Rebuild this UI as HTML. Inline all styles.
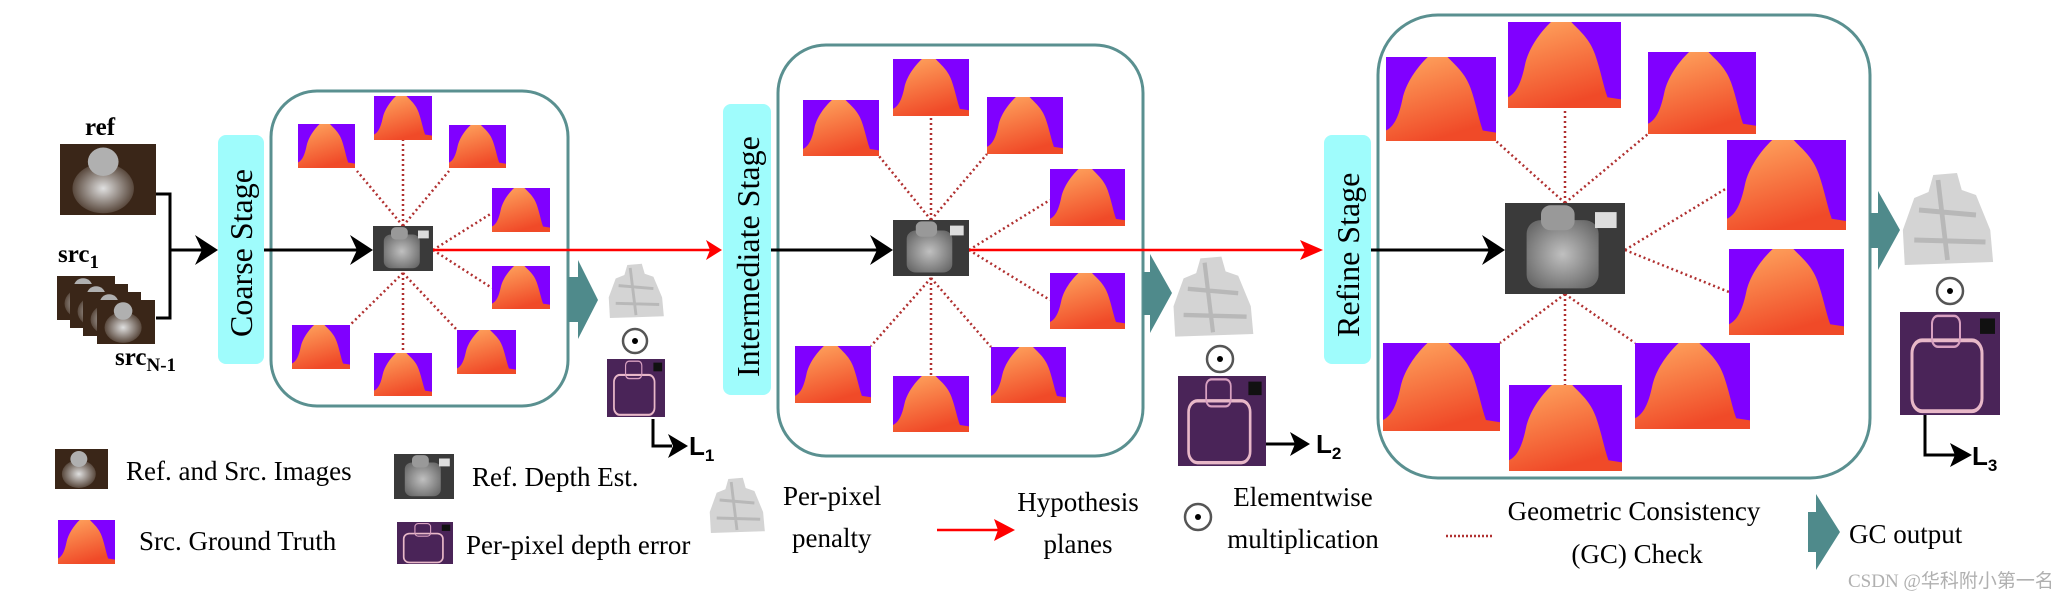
<!DOCTYPE html>
<html><head><meta charset="utf-8"><style>
html,body{margin:0;padding:0;background:#fff;}
svg{display:block;}
text{font-family:"Liberation Serif",serif;fill:#000;}
.b{font-weight:bold;}
.s{font-family:"Liberation Sans",sans-serif;font-weight:bold;}
</style></head><body>
<svg width="2071" height="600" viewBox="0 0 2071 600" xmlns="http://www.w3.org/2000/svg">
<defs>
<linearGradient id="og" x1="0" y1="0" x2="0.4" y2="1"><stop offset="0" stop-color="#ffa860"/><stop offset="1" stop-color="#f04a28"/></linearGradient>
<radialGradient id="gg" cx="0.5" cy="0.5" r="0.6"><stop offset="0" stop-color="#c0c0c0"/><stop offset="1" stop-color="#6a6a6a"/></radialGradient>
<radialGradient id="pg" cx="0.5" cy="0.5" r="0.6"><stop offset="0" stop-color="#e0e0e0"/><stop offset="1" stop-color="#3e2a1c"/></radialGradient>
<symbol id="gt" viewBox="0 0 100 80" preserveAspectRatio="none">
<rect width="100" height="80" fill="#8000ff"/>
<path d="M38 0 L56 0 C63 8 72 15 77 30 C82 45 84 58 88 70 L100 72 L100 80 L0 80 L0 70 C8 66 12 55 15 40 C18 25 28 10 38 0Z" fill="url(#og)"/>
</symbol>
<symbol id="dp" viewBox="0 0 100 80" preserveAspectRatio="none">
<rect width="100" height="80" fill="#3a3a3a"/>
<rect x="18" y="15" width="60" height="60" rx="12" fill="url(#gg)"/>
<rect x="30" y="2" width="28" height="22" rx="8" fill="#999"/>
<rect x="75" y="8" width="18" height="14" fill="#ddd"/>
</symbol>
<symbol id="ph" viewBox="0 0 100 80" preserveAspectRatio="none">
<rect width="100" height="80" fill="#3a2618"/>
<ellipse cx="45" cy="50" rx="32" ry="28" fill="url(#pg)"/>
<ellipse cx="45" cy="20" rx="16" ry="16" fill="#b0b0b0"/>
</symbol>
<symbol id="er" viewBox="0 0 100 80" preserveAspectRatio="none">
<rect width="100" height="80" fill="#4a2458"/>
<rect x="12" y="22" width="70" height="55" rx="10" fill="none" stroke="#e8b8c8" stroke-width="3"/>
<rect x="32" y="3" width="28" height="24" rx="6" fill="none" stroke="#d8a0c0" stroke-width="2"/>
<rect x="80" y="5" width="15" height="12" fill="#111"/>
</symbol>
<symbol id="pn" viewBox="0 0 100 100" preserveAspectRatio="none">
<path d="M35 5 L60 3 L65 20 L80 25 L95 60 L98 92 L5 95 L3 60 L15 28 L30 22Z" fill="#d4d4d4"/>
<path d="M20 40 L80 45 M15 70 L90 72 M40 10 L50 90" stroke="#909090" stroke-width="5" opacity=".4"/>
</symbol>
</defs>

<!-- inputs -->
<text x="85" y="135" class="b" font-size="25">ref</text>
<use href="#ph" x="60" y="144" width="96" height="71"/>
<text x="58" y="262" class="b" font-size="25">src<tspan font-size="19" dy="6">1</tspan></text>
<use href="#ph" x="57" y="276" width="58" height="44"/>
<use href="#ph" x="70" y="284" width="58" height="44"/>
<use href="#ph" x="83" y="292" width="58" height="44"/>
<use href="#ph" x="97" y="300" width="58" height="44"/>
<text x="115" y="365" class="b" font-size="25">src<tspan font-size="19" dy="6">N-1</tspan></text>
<path d="M156 194 H170 V318 H156" fill="none" stroke="#000" stroke-width="3"/>
<line x1="170" y1="250" x2="205" y2="250" stroke="#000" stroke-width="3"/>
<path d="M195 235 L218 250 L195 265 L202 250Z" fill="#000"/>

<!-- coarse -->
<rect x="218" y="135" width="46" height="229" rx="8" fill="#9ffcfc"/>
<text transform="translate(252 337) rotate(-90)" font-size="32">Coarse Stage</text>
<rect x="271" y="91" width="297" height="315" rx="46" fill="none" stroke="#5a9090" stroke-width="3"/>
<g stroke="#b03030" stroke-width="2.5" stroke-dasharray="2 3">
<line x1="403" y1="226" x2="357" y2="171"/><line x1="403" y1="226" x2="403" y2="140"/><line x1="403" y1="226" x2="449" y2="171"/>
<line x1="433" y1="250" x2="492" y2="213"/><line x1="433" y1="250" x2="492" y2="288"/>
<line x1="403" y1="273" x2="350" y2="325"/><line x1="403" y1="273" x2="403" y2="353"/><line x1="403" y1="273" x2="457" y2="330"/>
</g>
<use href="#gt" x="298" y="124" width="57" height="44"/>
<use href="#gt" x="374" y="96" width="58" height="44"/>
<use href="#gt" x="449" y="125" width="57" height="43"/>
<use href="#gt" x="492" y="188" width="58" height="44"/>
<use href="#gt" x="492" y="266" width="58" height="43"/>
<use href="#gt" x="292" y="325" width="58" height="44"/>
<use href="#gt" x="374" y="353" width="58" height="43"/>
<use href="#gt" x="457" y="330" width="59" height="44"/>
<line x1="264" y1="250" x2="360" y2="250" stroke="#000" stroke-width="3"/>
<path d="M350 235 L373 250 L350 265 L357 250Z" fill="#000"/>
<use href="#dp" x="373" y="226" width="60" height="45"/>
<line x1="433" y1="250" x2="712" y2="250" stroke="#f00" stroke-width="2.5"/>
<path d="M706 240 L722 250 L706 260 L710 250Z" fill="#f00"/>
<polygon points="568,277 578,277 578,260 598,300 578,339 578,322 568,322" fill="#4f8a8b"/>
<use href="#pn" x="607" y="262" width="58" height="59"/>
<circle cx="635" cy="341" r="12" fill="none" stroke="#555" stroke-width="2.5"/><circle cx="635" cy="341" r="3" fill="#000"/>
<use href="#er" x="607" y="359" width="58" height="58"/>
<path d="M653 419 V446 H672" fill="none" stroke="#000" stroke-width="3"/>
<path d="M668 434 L688 446 L668 458 L673 446Z" fill="#000"/>
<text x="689" y="455" class="s" font-size="26">L<tspan font-size="17" dy="6">1</tspan></text>

<!-- intermediate -->
<rect x="723" y="104" width="48" height="291" rx="8" fill="#9ffcfc"/>
<text transform="translate(759 377) rotate(-90)" font-size="32">Intermediate Stage</text>
<rect x="778" y="45" width="365" height="411" rx="48" fill="none" stroke="#5a9090" stroke-width="3"/>
<g stroke="#b03030" stroke-width="2.5" stroke-dasharray="2 3">
<line x1="931" y1="220" x2="879" y2="156"/><line x1="931" y1="220" x2="931" y2="116"/><line x1="931" y1="220" x2="987" y2="154"/>
<line x1="969" y1="250" x2="1050" y2="200"/><line x1="969" y1="250" x2="1050" y2="300"/>
<line x1="931" y1="278" x2="871" y2="346"/><line x1="931" y1="278" x2="931" y2="376"/><line x1="931" y1="278" x2="991" y2="347"/>
</g>
<use href="#gt" x="803" y="100" width="76" height="56"/>
<use href="#gt" x="893" y="59" width="76" height="57"/>
<use href="#gt" x="987" y="97" width="76" height="57"/>
<use href="#gt" x="1050" y="169" width="75" height="57"/>
<use href="#gt" x="1050" y="273" width="75" height="56"/>
<use href="#gt" x="795" y="346" width="76" height="57"/>
<use href="#gt" x="893" y="376" width="76" height="56"/>
<use href="#gt" x="991" y="347" width="75" height="56"/>
<line x1="771" y1="250" x2="880" y2="250" stroke="#000" stroke-width="3"/>
<path d="M870 235 L893 250 L870 265 L877 250Z" fill="#000"/>
<use href="#dp" x="893" y="220" width="76" height="56"/>
<line x1="969" y1="250" x2="1315" y2="250" stroke="#f00" stroke-width="2.5"/>
<path d="M1300 240 L1323 250 L1300 260 L1305 250Z" fill="#f00"/>
<polygon points="1143,272 1150,272 1150,254 1172,293 1150,333 1150,315 1143,315" fill="#4f8a8b"/>
<use href="#pn" x="1171" y="254" width="84" height="87"/>
<circle cx="1220" cy="359" r="13" fill="none" stroke="#555" stroke-width="2.5"/><circle cx="1220" cy="359" r="3" fill="#000"/>
<use href="#er" x="1178" y="376" width="88" height="90"/>
<line x1="1266" y1="444" x2="1295" y2="444" stroke="#000" stroke-width="3"/>
<path d="M1290 432 L1310 444 L1290 456 L1295 444Z" fill="#000"/>
<text x="1316" y="453" class="s" font-size="26">L<tspan font-size="17" dy="6">2</tspan></text>

<!-- refine -->
<rect x="1324" y="135" width="47" height="229" rx="8" fill="#9ffcfc"/>
<text transform="translate(1359 337) rotate(-90)" font-size="32">Refine Stage</text>
<rect x="1378" y="15" width="492" height="463" rx="60" fill="none" stroke="#5a9090" stroke-width="3"/>
<g stroke="#b03030" stroke-width="2.5" stroke-dasharray="2 3">
<line x1="1565" y1="203" x2="1496" y2="141"/><line x1="1565" y1="203" x2="1565" y2="108"/><line x1="1565" y1="203" x2="1648" y2="134"/>
<line x1="1625" y1="250" x2="1727" y2="188"/><line x1="1625" y1="250" x2="1729" y2="292"/>
<line x1="1565" y1="294" x2="1500" y2="343"/><line x1="1565" y1="294" x2="1565" y2="385"/><line x1="1565" y1="294" x2="1635" y2="343"/>
</g>
<use href="#gt" x="1386" y="57" width="110" height="84"/>
<use href="#gt" x="1508" y="22" width="113" height="86"/>
<use href="#gt" x="1648" y="52" width="108" height="82"/>
<use href="#gt" x="1727" y="140" width="119" height="90"/>
<use href="#gt" x="1729" y="249" width="115" height="86"/>
<use href="#gt" x="1383" y="343" width="117" height="88"/>
<use href="#gt" x="1509" y="385" width="113" height="86"/>
<use href="#gt" x="1635" y="343" width="115" height="86"/>
<line x1="1371" y1="250" x2="1492" y2="250" stroke="#000" stroke-width="3"/>
<path d="M1482 235 L1505 250 L1482 265 L1489 250Z" fill="#000"/>
<use href="#dp" x="1505" y="203" width="120" height="91"/>
<polygon points="1870,213 1878,213 1878,191 1900,230 1878,270 1878,248 1870,248" fill="#4f8a8b"/>
<use href="#pn" x="1900" y="170" width="95" height="100"/>
<circle cx="1950" cy="291" r="13" fill="none" stroke="#555" stroke-width="2.5"/><circle cx="1950" cy="291" r="3" fill="#000"/>
<use href="#er" x="1900" y="312" width="100" height="103"/>
<path d="M1925 415 V455 H1955" fill="none" stroke="#000" stroke-width="3"/>
<path d="M1950 443 L1972 455 L1950 467 L1955 455Z" fill="#000"/>
<text x="1972" y="465" class="s" font-size="26">L<tspan font-size="17" dy="6">3</tspan></text>

<!-- legend -->
<use href="#ph" x="55" y="449" width="53" height="40"/>
<text x="126" y="480" font-size="27">Ref. and Src. Images</text>
<use href="#dp" x="394" y="454" width="60" height="45"/>
<text x="472" y="486" font-size="27">Ref. Depth Est.</text>
<use href="#gt" x="58" y="520" width="57" height="44"/>
<text x="139" y="550" font-size="27">Src. Ground Truth</text>
<use href="#er" x="397" y="522" width="56" height="42"/>
<text x="466" y="554" font-size="27">Per-pixel depth error</text>
<use href="#pn" x="708" y="476" width="58" height="60"/>
<text x="783" y="505" font-size="27">Per-pixel</text>
<text x="792" y="547" font-size="27">penalty</text>
<line x1="937" y1="530" x2="1005" y2="530" stroke="#f00" stroke-width="2.5"/>
<path d="M994 519 L1015 530 L994 541 L998 530Z" fill="#f00"/>
<text x="1078" y="511" font-size="27" text-anchor="middle">Hypothesis</text>
<text x="1078" y="553" font-size="27" text-anchor="middle">planes</text>
<circle cx="1198" cy="517" r="13" fill="none" stroke="#555" stroke-width="2.5"/><circle cx="1198" cy="517" r="3" fill="#000"/>
<text x="1303" y="506" font-size="27" text-anchor="middle">Elementwise</text>
<text x="1303" y="548" font-size="27" text-anchor="middle">multiplication</text>
<line x1="1446" y1="536" x2="1494" y2="536" stroke="#b03030" stroke-width="2.5" stroke-dasharray="2 2"/>
<text x="1634" y="520" font-size="27" text-anchor="middle">Geometric Consistency</text>
<text x="1637" y="563" font-size="27" text-anchor="middle">(GC) Check</text>
<polygon points="1808,512 1816,512 1816,494 1840,532 1816,570 1816,552 1808,552" fill="#4f8a8b"/>
<text x="1849" y="543" font-size="27">GC output</text>
<text x="1848" y="587" font-family="'Liberation Sans','Noto Sans CJK SC',sans-serif" font-size="19" style="fill:#b0b0b0">CSDN @华科附小第一名</text>
</svg>
</body></html>
